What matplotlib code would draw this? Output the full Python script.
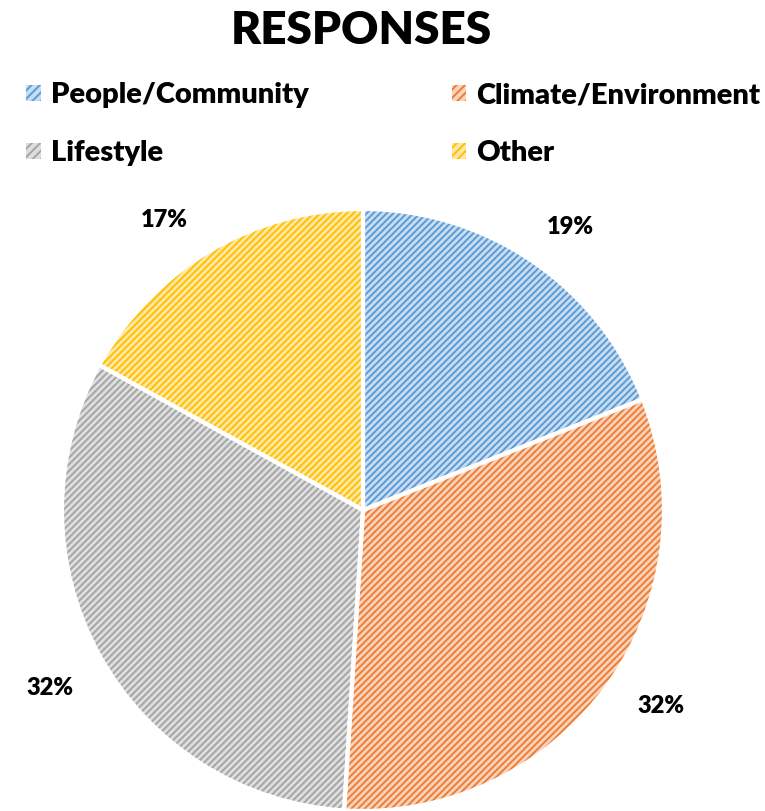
import matplotlib
matplotlib.use('Agg')
import matplotlib.pyplot as plt
from matplotlib.patches import Patch

# data
categories = ['People/Community', 'Climate/Environment', 'Lifestyle', 'Other']
shares = [19, 32, 32, 17]
face_colors = ['#C9DDF2', '#F9D3BD', '#DEDEDE', '#FFE7A6']
hatch_colors = ['#5B9BD5', '#ED7D31', '#A5A5A5', '#FFC000']

plt.rcParams['font.family'] = ['Lato', 'DejaVu Sans']
plt.rcParams['hatch.linewidth'] = 1.4

W, H = 765, 811
fig = plt.figure(figsize=(W / 100, H / 100), dpi=100)

# pie axes in pixel terms: center (363, 510), radius 301
cx, cy, r = 363, 510, 301
ax = fig.add_axes([(cx - r) / W, (H - cy - r) / H, 2 * r / W, 2 * r / H])

# first pass: fill + hatch (hatch takes edge colour)
wedges, _ = ax.pie(shares, startangle=90, counterclock=False, radius=1,
                   colors=face_colors, wedgeprops=dict(linewidth=0))
for w, hc in zip(wedges, hatch_colors):
    w.set_hatch('/////')
    w.set_edgecolor(hc)
    w.set_linewidth(0)

# second pass: white borders and labels
wedges2, _, autotexts = ax.pie(shares, startangle=90, counterclock=False, radius=1,
                               colors=['none'] * 4, autopct='%d%%', pctdistance=1.17,
                               wedgeprops=dict(linewidth=3, edgecolor='white', fill=False),
                               textprops=dict(fontsize=17, fontweight='heavy', color='black'))
# nudge labels to where excel put them ("best fit")
label_pos = [(0.69, 0.94), (0.99, -0.65), (-1.04, -0.59), (-0.66, 0.965)]
for t, p in zip(autotexts, label_pos):
    t.set_position(p)
ax.set_xlim(-1, 1)
ax.set_ylim(-1, 1)
ax.set_aspect('equal')

fig.text(361 / W, 1 - 31 / H, 'RESPONSES', ha='center', va='center',
         fontsize=33, fontweight='heavy')

# legend fills column by column, so order for row-wise reading
order = [0, 2, 1, 3]
handles = [Patch(facecolor=face_colors[i], edgecolor=hatch_colors[i], hatch='////', linewidth=0)
           for i in order]
fig.legend(handles, [categories[i] for i in order], ncol=2, loc='upper left',
           bbox_to_anchor=(0 / W, 1 - 56 / H), frameon=False,
           prop=dict(size=21, weight='heavy'), handlelength=0.5, handleheight=0.5,
           handletextpad=0.35, columnspacing=4.9, labelspacing=1.1)

fig.savefig('out.png', dpi=100)
